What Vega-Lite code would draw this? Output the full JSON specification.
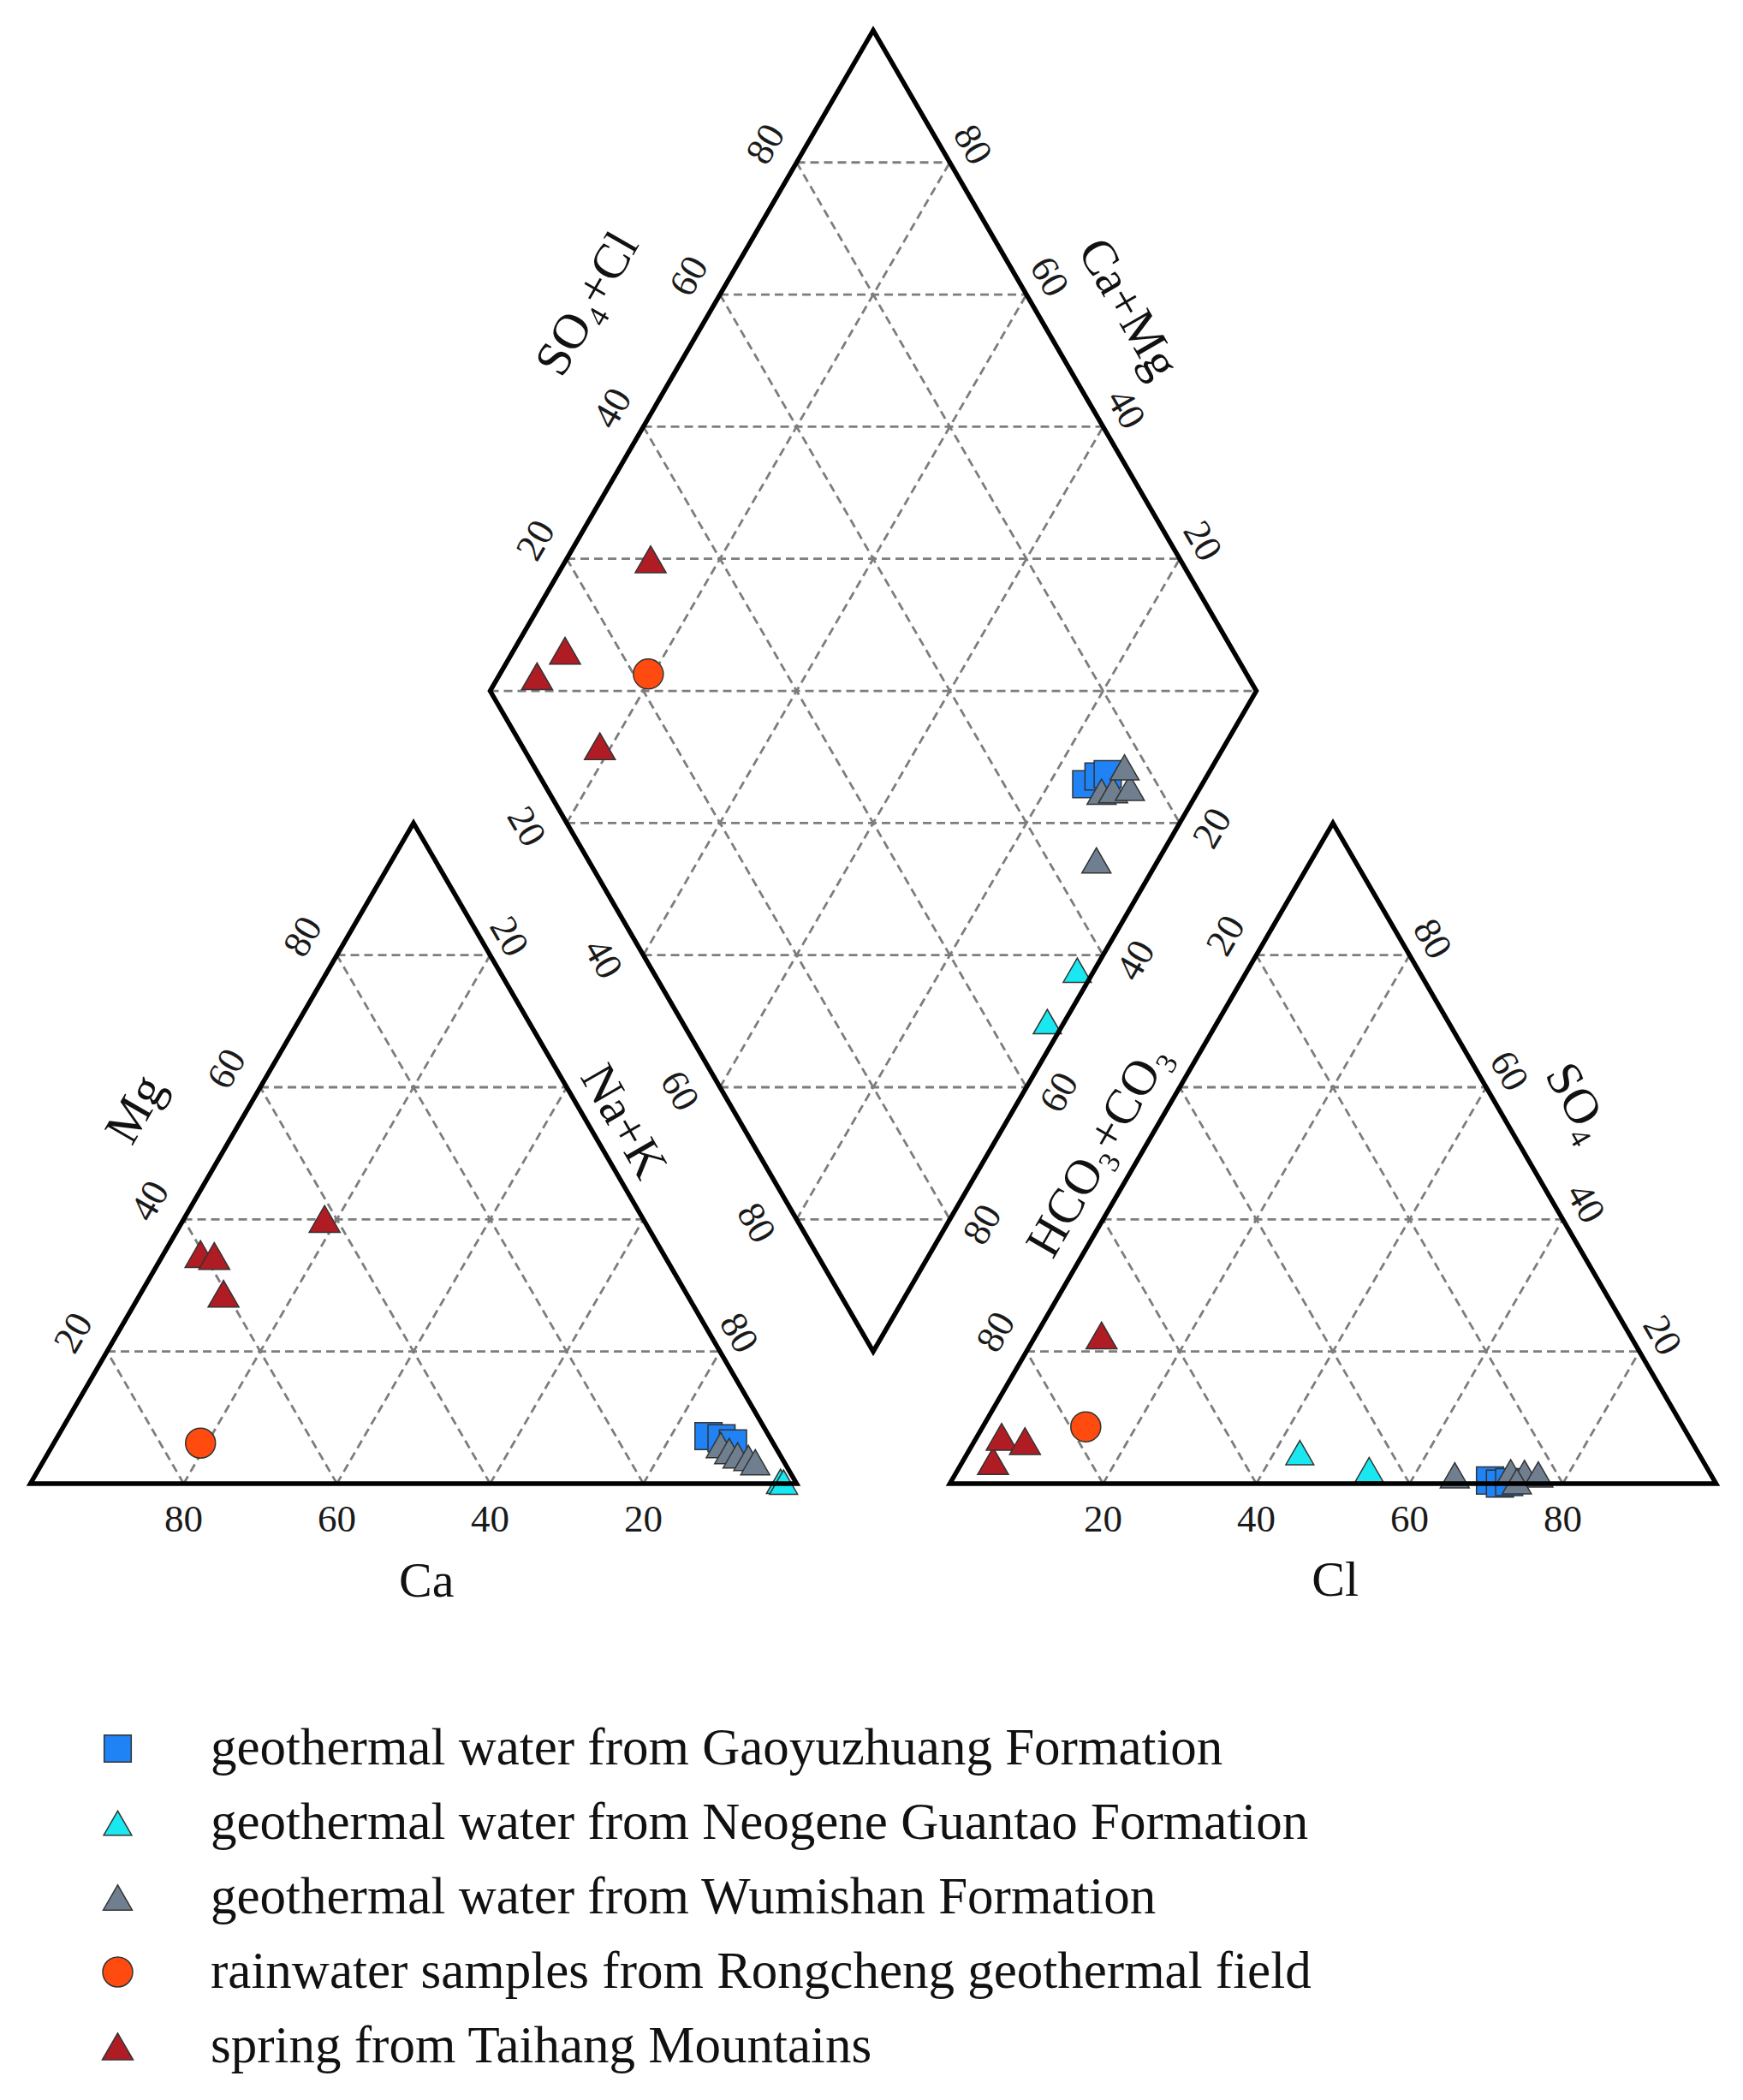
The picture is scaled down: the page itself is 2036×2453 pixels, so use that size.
{
  "$schema": "https://vega.github.io/schema/vega-lite/v6.json",
  "width": 2036,
  "height": 2453,
  "autosize": {"type": "none"},
  "padding": 0,
  "background": "white",
  "config": {"view": {"stroke": null}, "font": "Liberation Serif"},
  "datasets": {
    "grid": [
      {"x": 10, "y": 17.3205, "x2": 90, "y2": 17.3205},
      {"x": 20, "y": 34.641, "x2": 80, "y2": 34.641},
      {"x": 30, "y": 51.9615, "x2": 70, "y2": 51.9615},
      {"x": 40, "y": 69.282, "x2": 60, "y2": 69.282},
      {"x": 20, "y": 0, "x2": 60, "y2": 69.282},
      {"x": 40, "y": 0, "x2": 70, "y2": 51.9615},
      {"x": 60, "y": 0, "x2": 80, "y2": 34.641},
      {"x": 80, "y": 0, "x2": 90, "y2": 17.3205},
      {"x": 20, "y": 0, "x2": 10, "y2": 17.3205},
      {"x": 40, "y": 0, "x2": 20, "y2": 34.641},
      {"x": 60, "y": 0, "x2": 30, "y2": 51.9615},
      {"x": 80, "y": 0, "x2": 40, "y2": 69.282},
      {"x": 130, "y": 17.3205, "x2": 210, "y2": 17.3205},
      {"x": 140, "y": 34.641, "x2": 200, "y2": 34.641},
      {"x": 150, "y": 51.9615, "x2": 190, "y2": 51.9615},
      {"x": 160, "y": 69.282, "x2": 180, "y2": 69.282},
      {"x": 140, "y": 0, "x2": 180, "y2": 69.282},
      {"x": 160, "y": 0, "x2": 190, "y2": 51.9615},
      {"x": 180, "y": 0, "x2": 200, "y2": 34.641},
      {"x": 200, "y": 0, "x2": 210, "y2": 17.3205},
      {"x": 140, "y": 0, "x2": 130, "y2": 17.3205},
      {"x": 160, "y": 0, "x2": 140, "y2": 34.641},
      {"x": 180, "y": 0, "x2": 150, "y2": 51.9615},
      {"x": 200, "y": 0, "x2": 160, "y2": 69.282},
      {"x": 70, "y": 86.6025, "x2": 120, "y2": 173.205},
      {"x": 80, "y": 69.282, "x2": 130, "y2": 155.8845},
      {"x": 90, "y": 51.9615, "x2": 140, "y2": 138.564},
      {"x": 100, "y": 34.641, "x2": 150, "y2": 121.2435},
      {"x": 70, "y": 121.2435, "x2": 120, "y2": 34.641},
      {"x": 80, "y": 138.564, "x2": 130, "y2": 51.9615},
      {"x": 90, "y": 155.8845, "x2": 140, "y2": 69.282},
      {"x": 100, "y": 173.205, "x2": 150, "y2": 86.6025},
      {"x": 100, "y": 34.641, "x2": 120, "y2": 34.641},
      {"x": 90, "y": 51.9615, "x2": 130, "y2": 51.9615},
      {"x": 80, "y": 69.282, "x2": 140, "y2": 69.282},
      {"x": 70, "y": 86.6025, "x2": 150, "y2": 86.6025},
      {"x": 60, "y": 103.923, "x2": 160, "y2": 103.923},
      {"x": 70, "y": 121.2435, "x2": 150, "y2": 121.2435},
      {"x": 80, "y": 138.564, "x2": 140, "y2": 138.564},
      {"x": 90, "y": 155.8845, "x2": 130, "y2": 155.8845},
      {"x": 100, "y": 173.205, "x2": 120, "y2": 173.205}
    ],
    "outline": [
      {"poly": "cation", "i": 0, "x": 50, "y": 0},
      {"poly": "cation", "i": 1, "x": 100, "y": 0},
      {"poly": "cation", "i": 2, "x": 50, "y": 86.6025},
      {"poly": "cation", "i": 3, "x": 0, "y": 0},
      {"poly": "cation", "i": 4, "x": 50, "y": 0},
      {"poly": "anion", "i": 0, "x": 170, "y": 0},
      {"poly": "anion", "i": 1, "x": 220, "y": 0},
      {"poly": "anion", "i": 2, "x": 170, "y": 86.6025},
      {"poly": "anion", "i": 3, "x": 120, "y": 0},
      {"poly": "anion", "i": 4, "x": 170, "y": 0},
      {"poly": "diamond", "i": 0, "x": 135, "y": 60.6218},
      {"poly": "diamond", "i": 1, "x": 160, "y": 103.923},
      {"poly": "diamond", "i": 2, "x": 110, "y": 190.5255},
      {"poly": "diamond", "i": 3, "x": 60, "y": 103.923},
      {"poly": "diamond", "i": 4, "x": 110, "y": 17.3205},
      {"poly": "diamond", "i": 5, "x": 135, "y": 60.6218}
    ],
    "points": [
      {"plot": "cation", "group": "geothermal water from Gaoyuzhuang Formation", "x": 88.5, "y": 6.23},
      {"plot": "cation", "group": "geothermal water from Gaoyuzhuang Formation", "x": 90.2, "y": 5.95},
      {"plot": "cation", "group": "geothermal water from Gaoyuzhuang Formation", "x": 91.7, "y": 5.27},
      {"plot": "cation", "group": "geothermal water from Wumishan Formation", "x": 90.1, "y": 5.05},
      {"plot": "cation", "group": "geothermal water from Wumishan Formation", "x": 91.2, "y": 4.26},
      {"plot": "cation", "group": "geothermal water from Wumishan Formation", "x": 92.3, "y": 3.7},
      {"plot": "cation", "group": "geothermal water from Wumishan Formation", "x": 93.7, "y": 3.37},
      {"plot": "cation", "group": "geothermal water from Wumishan Formation", "x": 94.6, "y": 2.8},
      {"plot": "cation", "group": "geothermal water from Neogene Guantao Formation", "x": 97.9, "y": 0.3},
      {"plot": "cation", "group": "geothermal water from Neogene Guantao Formation", "x": 98.3, "y": 0.2},
      {"plot": "cation", "group": "rainwater samples from Rongcheng geothermal field", "x": 22.2, "y": 5.3},
      {"plot": "cation", "group": "spring from Taihang Mountains", "x": 22.2, "y": 30.1},
      {"plot": "cation", "group": "spring from Taihang Mountains", "x": 24.0, "y": 29.85},
      {"plot": "cation", "group": "spring from Taihang Mountains", "x": 25.2, "y": 24.9},
      {"plot": "cation", "group": "spring from Taihang Mountains", "x": 38.4, "y": 34.7},
      {"plot": "diamond", "group": "geothermal water from Gaoyuzhuang Formation", "x": 137.8, "y": 91.7},
      {"plot": "diamond", "group": "geothermal water from Gaoyuzhuang Formation", "x": 139.4, "y": 92.7},
      {"plot": "diamond", "group": "geothermal water from Gaoyuzhuang Formation", "x": 140.6, "y": 93.0},
      {"plot": "diamond", "group": "geothermal water from Wumishan Formation", "x": 139.8, "y": 90.7},
      {"plot": "diamond", "group": "geothermal water from Wumishan Formation", "x": 141.3, "y": 90.9},
      {"plot": "diamond", "group": "geothermal water from Wumishan Formation", "x": 143.5, "y": 91.2},
      {"plot": "diamond", "group": "geothermal water from Wumishan Formation", "x": 142.8, "y": 93.9},
      {"plot": "diamond", "group": "geothermal water from Wumishan Formation", "x": 139.13, "y": 81.71},
      {"plot": "diamond", "group": "geothermal water from Neogene Guantao Formation", "x": 136.63, "y": 67.31},
      {"plot": "diamond", "group": "geothermal water from Neogene Guantao Formation", "x": 132.72, "y": 60.57},
      {"plot": "diamond", "group": "rainwater samples from Rongcheng geothermal field", "x": 80.65, "y": 106.14},
      {"plot": "diamond", "group": "spring from Taihang Mountains", "x": 80.95, "y": 121.18},
      {"plot": "diamond", "group": "spring from Taihang Mountains", "x": 69.78, "y": 109.2},
      {"plot": "diamond", "group": "spring from Taihang Mountains", "x": 66.12, "y": 105.84},
      {"plot": "diamond", "group": "spring from Taihang Mountains", "x": 74.32, "y": 96.67},
      {"plot": "anion", "group": "geothermal water from Gaoyuzhuang Formation", "x": 190.5, "y": 0.4},
      {"plot": "anion", "group": "geothermal water from Gaoyuzhuang Formation", "x": 191.8, "y": 0.0},
      {"plot": "anion", "group": "geothermal water from Gaoyuzhuang Formation", "x": 193.0, "y": 0.2},
      {"plot": "anion", "group": "geothermal water from Wumishan Formation", "x": 193.2, "y": 1.5},
      {"plot": "anion", "group": "geothermal water from Wumishan Formation", "x": 195.0, "y": 1.4},
      {"plot": "anion", "group": "geothermal water from Wumishan Formation", "x": 196.8, "y": 1.2},
      {"plot": "anion", "group": "geothermal water from Wumishan Formation", "x": 194.0, "y": 0.3},
      {"plot": "anion", "group": "geothermal water from Wumishan Formation", "x": 185.9, "y": 1.09},
      {"plot": "anion", "group": "geothermal water from Neogene Guantao Formation", "x": 165.68, "y": 4.07},
      {"plot": "anion", "group": "geothermal water from Neogene Guantao Formation", "x": 174.73, "y": 1.83},
      {"plot": "anion", "group": "rainwater samples from Rongcheng geothermal field", "x": 137.74, "y": 7.44},
      {"plot": "anion", "group": "spring from Taihang Mountains", "x": 139.8, "y": 19.42},
      {"plot": "anion", "group": "spring from Taihang Mountains", "x": 125.64, "y": 2.95},
      {"plot": "anion", "group": "spring from Taihang Mountains", "x": 126.76, "y": 6.14},
      {"plot": "anion", "group": "spring from Taihang Mountains", "x": 129.81, "y": 5.58}
    ],
    "ticks": [
      {"dir": "h", "x": 20, "y": -4.66, "label": "80"},
      {"dir": "h", "x": 40, "y": -4.66, "label": "60"},
      {"dir": "h", "x": 60, "y": -4.66, "label": "40"},
      {"dir": "h", "x": 80, "y": -4.66, "label": "20"},
      {"dir": "h", "x": 140, "y": -4.66, "label": "20"},
      {"dir": "h", "x": 160, "y": -4.66, "label": "40"},
      {"dir": "h", "x": 180, "y": -4.66, "label": "60"},
      {"dir": "h", "x": 200, "y": -4.66, "label": "80"},
      {"dir": "up", "x": 5.64, "y": 19.75, "label": "20"},
      {"dir": "up", "x": 15.63, "y": 37.04, "label": "40"},
      {"dir": "up", "x": 25.64, "y": 54.36, "label": "60"},
      {"dir": "up", "x": 35.6, "y": 71.7, "label": "80"},
      {"dir": "down", "x": 62.45, "y": 71.68, "label": "20"},
      {"dir": "down", "x": 92.45, "y": 19.72, "label": "80"},
      {"dir": "down", "x": 64.7, "y": 86.1, "label": "20"},
      {"dir": "down", "x": 74.7, "y": 68.78, "label": "40"},
      {"dir": "down", "x": 84.7, "y": 51.46, "label": "60"},
      {"dir": "down", "x": 94.7, "y": 34.14, "label": "80"},
      {"dir": "up", "x": 154.3, "y": 85.9, "label": "20"},
      {"dir": "up", "x": 144.3, "y": 68.58, "label": "40"},
      {"dir": "up", "x": 134.3, "y": 51.26, "label": "60"},
      {"dir": "up", "x": 124.3, "y": 33.94, "label": "80"},
      {"dir": "up", "x": 66.0, "y": 123.64, "label": "20"},
      {"dir": "up", "x": 76.0, "y": 140.96, "label": "40"},
      {"dir": "up", "x": 86.0, "y": 158.28, "label": "60"},
      {"dir": "up", "x": 96.0, "y": 175.6, "label": "80"},
      {"dir": "down", "x": 152.95, "y": 123.54, "label": "20"},
      {"dir": "down", "x": 142.95, "y": 140.86, "label": "40"},
      {"dir": "down", "x": 132.95, "y": 158.18, "label": "60"},
      {"dir": "down", "x": 122.95, "y": 175.5, "label": "80"},
      {"dir": "up", "x": 156.05, "y": 71.83, "label": "20"},
      {"dir": "up", "x": 126.05, "y": 19.87, "label": "80"},
      {"dir": "down", "x": 212.95, "y": 19.42, "label": "20"},
      {"dir": "down", "x": 202.95, "y": 36.74, "label": "40"},
      {"dir": "down", "x": 192.95, "y": 54.06, "label": "60"},
      {"dir": "down", "x": 182.95, "y": 71.38, "label": "80"}
    ],
    "titles": [
      {"dir": "h", "x": 51.7, "y": -12.9, "label": "Ca"},
      {"dir": "h", "x": 170.3, "y": -12.8, "label": "Cl"},
      {"dir": "up", "x": 13.85, "y": 49.0, "label": "Mg"},
      {"dir": "up", "x": 139.5, "y": 43.65, "label": "HCO₃+CO₃"},
      {"dir": "up", "x": 72.8, "y": 154.6, "label": "SO₄+Cl"},
      {"dir": "down", "x": 77.3, "y": 47.4, "label": "Na+K"},
      {"dir": "down", "x": 201.85, "y": 49.95, "label": "SO₄"},
      {"dir": "down", "x": 143.2, "y": 154.0, "label": "Ca+Mg"}
    ]
  },
  "layer": [
    {
      "data": {"name": "grid"},
      "mark": {"type": "rule", "color": "#7d7d7d", "strokeWidth": 2.8, "strokeDash": [10, 6]},
      "encoding": {
        "x": {"field": "x", "type": "quantitative", "scale": {"domain": [-3.97, 223.52], "nice": false, "zero": false}, "axis": null},
        "y": {"field": "y", "type": "quantitative", "scale": {"domain": [-80.81, 194.5], "nice": false, "zero": false}, "axis": null},
        "x2": {"field": "x2"},
        "y2": {"field": "y2"}
      }
    },
    {
      "data": {"name": "points"},
      "mark": {"type": "point", "filled": true, "opacity": 1, "stroke": "#333333", "strokeWidth": 1.5},
      "encoding": {
        "x": {"field": "x", "type": "quantitative", "scale": {"domain": [-3.97, 223.52], "nice": false, "zero": false}, "axis": null},
        "y": {"field": "y", "type": "quantitative", "scale": {"domain": [-80.81, 194.5], "nice": false, "zero": false}, "axis": null},
        "color": {
          "field": "group", "type": "nominal",
          "scale": {
            "domain": ["geothermal water from Gaoyuzhuang Formation", "geothermal water from Neogene Guantao Formation", "geothermal water from Wumishan Formation", "rainwater samples from Rongcheng geothermal field", "spring from Taihang Mountains"],
            "range": ["#1f82f5", "#19e8f0", "#6f7f90", "#ff4b0f", "#b01c24"]
          },
          "legend": {
            "orient": "none", "legendX": 107, "legendY": 2012, "title": null, "padding": 0,
            "labelFont": "Liberation Serif", "labelFontSize": 61, "labelColor": "#111111", "labelLimit": 0,
            "labelOffset": 78, "symbolSize": 1400, "symbolStrokeColor": "#333333", "symbolStrokeWidth": 1.5,
            "rowPadding": 25
          }
        },
        "shape": {
          "field": "group", "type": "nominal",
          "scale": {
            "domain": ["geothermal water from Gaoyuzhuang Formation", "geothermal water from Neogene Guantao Formation", "geothermal water from Wumishan Formation", "rainwater samples from Rongcheng geothermal field", "spring from Taihang Mountains"],
            "range": ["square", "triangle-up", "triangle-up", "circle", "triangle-up"]
          },
          "legend": {
            "orient": "none", "legendX": 107, "legendY": 2012, "title": null, "padding": 0,
            "labelFont": "Liberation Serif", "labelFontSize": 61, "labelColor": "#111111", "labelLimit": 0,
            "labelOffset": 78, "symbolSize": 1400, "symbolStrokeColor": "#333333", "symbolStrokeWidth": 1.5,
            "rowPadding": 25
          }
        },
        "size": {
          "field": "group", "type": "nominal",
          "scale": {
            "domain": ["geothermal water from Gaoyuzhuang Formation", "geothermal water from Neogene Guantao Formation", "geothermal water from Wumishan Formation", "rainwater samples from Rongcheng geothermal field", "spring from Taihang Mountains"],
            "range": [1000, 1300, 1300, 1444, 1300]
          },
          "legend": null
        }
      }
    },
    {
      "data": {"name": "outline"},
      "mark": {"type": "line", "color": "black", "strokeWidth": 5.5, "strokeJoin": "miter", "strokeCap": "butt"},
      "encoding": {
        "x": {"field": "x", "type": "quantitative", "scale": {"domain": [-3.97, 223.52], "nice": false, "zero": false}, "axis": null},
        "y": {"field": "y", "type": "quantitative", "scale": {"domain": [-80.81, 194.5], "nice": false, "zero": false}, "axis": null},
        "detail": {"field": "poly", "type": "nominal"},
        "order": {"field": "i", "type": "quantitative"}
      }
    },
    {
      "data": {"name": "ticks"},
      "transform": [{"filter": "datum.dir == 'h'"}],
      "mark": {"type": "text", "font": "Liberation Serif", "fontSize": 45, "color": "#1a1a1a", "align": "center", "baseline": "middle", "angle": 0},
      "encoding": {
        "x": {"field": "x", "type": "quantitative", "axis": null},
        "y": {"field": "y", "type": "quantitative", "axis": null},
        "text": {"field": "label"}
      }
    },
    {
      "data": {"name": "ticks"},
      "transform": [{"filter": "datum.dir == 'up'"}],
      "mark": {"type": "text", "font": "Liberation Serif", "fontSize": 45, "color": "#1a1a1a", "align": "center", "baseline": "middle", "angle": -60},
      "encoding": {
        "x": {"field": "x", "type": "quantitative", "axis": null},
        "y": {"field": "y", "type": "quantitative", "axis": null},
        "text": {"field": "label"}
      }
    },
    {
      "data": {"name": "ticks"},
      "transform": [{"filter": "datum.dir == 'down'"}],
      "mark": {"type": "text", "font": "Liberation Serif", "fontSize": 45, "color": "#1a1a1a", "align": "center", "baseline": "middle", "angle": 60},
      "encoding": {
        "x": {"field": "x", "type": "quantitative", "axis": null},
        "y": {"field": "y", "type": "quantitative", "axis": null},
        "text": {"field": "label"}
      }
    },
    {
      "data": {"name": "titles"},
      "transform": [{"filter": "datum.dir == 'h'"}],
      "mark": {"type": "text", "font": "Liberation Serif", "fontSize": 58, "color": "#111111", "align": "center", "baseline": "middle", "angle": 0},
      "encoding": {
        "x": {"field": "x", "type": "quantitative", "axis": null},
        "y": {"field": "y", "type": "quantitative", "axis": null},
        "text": {"field": "label"}
      }
    },
    {
      "data": {"name": "titles"},
      "transform": [{"filter": "datum.dir == 'up'"}],
      "mark": {"type": "text", "font": "Liberation Serif", "fontSize": 58, "color": "#111111", "align": "center", "baseline": "middle", "angle": -60},
      "encoding": {
        "x": {"field": "x", "type": "quantitative", "axis": null},
        "y": {"field": "y", "type": "quantitative", "axis": null},
        "text": {"field": "label"}
      }
    },
    {
      "data": {"name": "titles"},
      "transform": [{"filter": "datum.dir == 'down'"}],
      "mark": {"type": "text", "font": "Liberation Serif", "fontSize": 58, "color": "#111111", "align": "center", "baseline": "middle", "angle": 60},
      "encoding": {
        "x": {"field": "x", "type": "quantitative", "axis": null},
        "y": {"field": "y", "type": "quantitative", "axis": null},
        "text": {"field": "label"}
      }
    }
  ]
}
